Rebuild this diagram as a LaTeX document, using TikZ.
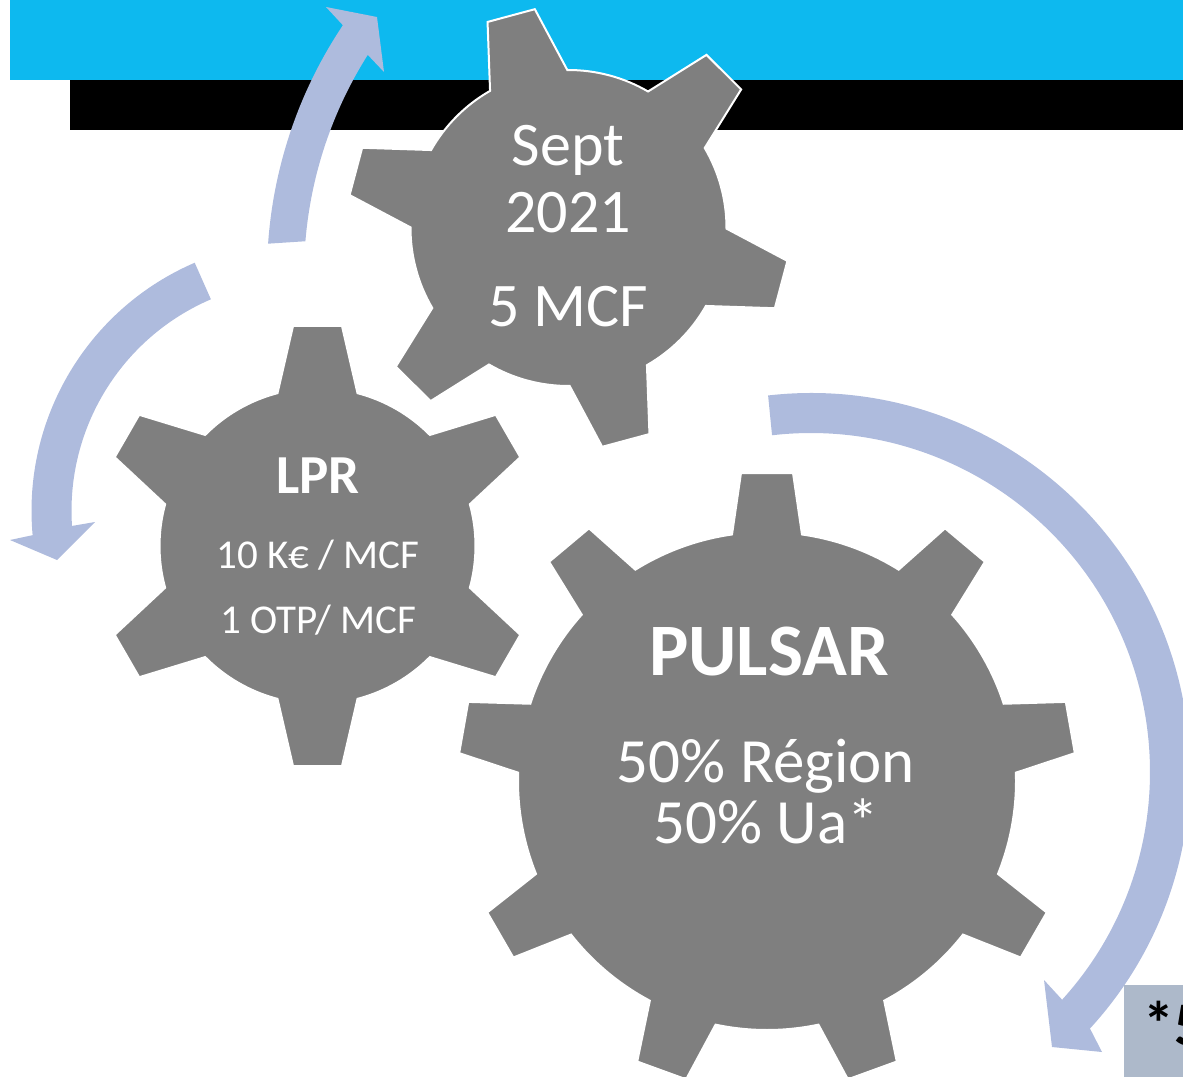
\documentclass[tikz,border=0pt]{standalone}
\usepackage{fontspec}
\setmainfont{Carlito}
\usetikzlibrary{positioning}
\usepackage{xcolor}

\definecolor{bandblue}{RGB}{13,185,239}
\definecolor{cogray}{RGB}{127,127,127}
\definecolor{arrowblue}{RGB}{174,187,221}
\definecolor{notegray}{RGB}{173,185,202}

\newcommand{\fsz}[1]{\fontsize{#1}{#1}\selectfont}

\tikzset{
  cog/.style={fill=cogray, draw=white, line width=2pt},
  roundarrow/.style={fill=arrowblue},
  cogtext/.style={text=white, anchor=base, inner sep=0pt},
}

% center, teeth, first tooth angle, body radius, base half angle, tip radius, tip half angle
\newcommand{\cog}[7]{%
  \begin{scope}[shift={#1}]
    \fill[cog] ({#3-#5}:#4)
      \foreach \k [evaluate=\k as \ang using #3+(\k-1)*360/#2] in {1,...,#2} {
        -- ({\ang-#7}:#6) -- ({\ang+#7}:#6) -- ({\ang+#5}:#4)
        arc[start angle={\ang+#5}, end angle={\ang+360/#2-#5}, radius=#4]
      } -- cycle;
  \end{scope}}

\begin{document}
\begin{tikzpicture}[x=1pt, y=-1pt]
  \useasboundingbox (0,0) rectangle (1183,1076);

  % title bands
  \fill[bandblue] (10,0) rectangle (1183,80);
  \fill[black] (70,80) rectangle (1183,130);

  % curved arrows
  \coordinate (up) at (716,275);
  \coordinate (left) at (301.5,510.7);
  \coordinate (right) at (811,772);
  \fill[roundarrow] ([shift={(up)}]184:449) arc[start angle=184, end angle=213.8, radius=449]
    -- (326,7) -- (377,17) -- (384,72)
    -- ([shift={(up)}]212.3:412) arc[start angle=212.3, end angle=184.7, radius=412] -- cycle;
  \fill[roundarrow] ([shift={(left)}]246.7:270) arc[start angle=246.7, end angle=174.8, radius=270]
    -- (10,540) -- (57,560) -- (95,522)
    -- ([shift={(left)}]176.2:230) arc[start angle=176.2, end angle=246.8, radius=230] -- cycle;
  \fill[roundarrow] ([shift={(right)}]-96.5:379) arc[start angle=-96.5, end angle=42.6, radius=379]
    -- (1102,1052) -- (1052,1047) -- (1044,980)
    -- ([shift={(right)}]42.2:339) arc[start angle=42.2, end angle=-96.6, radius=339] -- cycle;

  % gears
  \cog{(568.5,228)}{6}{-105.1}{158}{14.67}{221.4}{6.35}
  \cog{(317.5,546)}{6}{-90}{158}{14.67}{221.4}{6.35}
  \cog{(767,781)}{9}{-90}{249}{8.08}{309.1}{4.83}

  % footnote box
  \fill[notegray] (1124,985) rectangle (1190,1080);
  \node[anchor=base west, inner sep=0pt, font=\bfseries\fsz{62}] (note) at (1143,1045) {*5};

  % gear labels
  \node[cogtext, font=\fsz{62}] (sept) at (568,165) {Sept};
  \node[cogtext, font=\fsz{62}] (year) at (568,232) {2021};
  \node[cogtext, font=\fsz{62}] (posts) at (568,326) {5 MCF};

  \node[cogtext, font=\bfseries\fsz{55}] (lpr) at (318,493) {LPR};
  \node[cogtext, font=\fsz{41}] (bonus) at (318,568) {10 K€ / MCF};
  \node[cogtext, font=\fsz{41}] (otp) at (318,633) {1 OTP/ MCF};

  \node[cogtext, font=\bfseries\fsz{74}] (pulsar) at (769,675) {PULSAR};
  \node[cogtext, font=\fsz{63}] (region) at (766,782) {50\% Région};
  \node[cogtext, font=\fsz{63}] (univ) at (766,843) {50\% Ua*};
\end{tikzpicture}
\end{document}
